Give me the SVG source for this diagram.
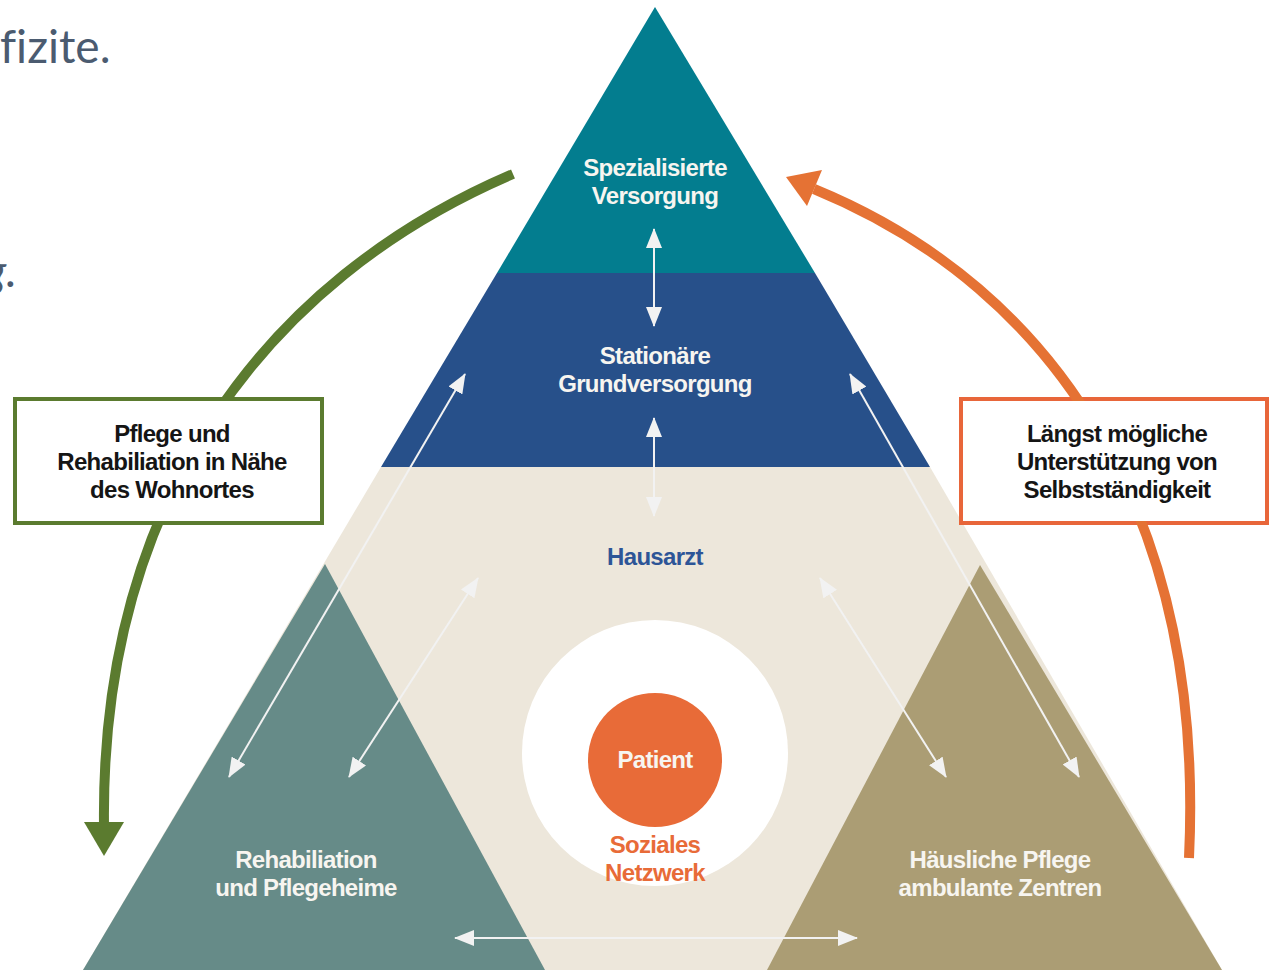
<svg xmlns="http://www.w3.org/2000/svg" width="1276" height="970" viewBox="0 0 1276 970">
  <defs>
    <style>
      .lbl { font-family: "Liberation Sans", Arial, sans-serif; font-weight: bold; font-size: 24px; letter-spacing: -0.7px; text-anchor: middle; }
      .white { fill: #F7F5F0; }
      .dark { fill: #151515; }
      .conn { stroke: #F2F2F2; stroke-width: 2; fill: none; marker-start: url(#wh); marker-end: url(#wh); }
      .intro { font-family: Lato, "Open Sans", sans-serif; font-weight: 400; font-size: 46px; fill: #4B5B70; font-variant-ligatures: none; }
    </style>
    <marker id="wh" viewBox="0 0 20 16" refX="19" refY="8" markerWidth="20" markerHeight="16" markerUnits="userSpaceOnUse" orient="auto-start-reverse">
      <path d="M0,0 L20,8 L0,16 z" fill="#F2F2F2"/>
    </marker>
  </defs>

  <rect width="1276" height="970" fill="#FFFFFF"/>

  <!-- fragments of running text at the left edge -->
  <text class="intro" x="0" y="63">fizite.</text>
  <text class="intro" x="-16" y="287" font-style="italic">g.</text>

  <!-- care pyramid -->
  <g id="pyramid-top">
    <polygon points="655,7 815,273 497,273" fill="#037D8F"/>
    <text class="lbl white" x="655" y="176">Spezialisierte</text>
    <text class="lbl white" x="655" y="204">Versorgung</text>
  </g>
  <g id="pyramid-middle">
    <polygon points="497,273 815,273 930,467 381,467" fill="#27508A"/>
    <text class="lbl white" x="655" y="364">Stationäre</text>
    <text class="lbl white" x="655" y="392">Grundversorgung</text>
  </g>
  <g id="pyramid-base">
    <polygon points="381,467 930,467 1222,970 83,970" fill="#EDE7DB"/>
    <text class="lbl" x="655" y="565" fill="#2D5597">Hausarzt</text>
  </g>
  <g id="rehab">
    <polygon points="325,564 545,970 83,970" fill="#668B88"/>
    <text class="lbl white" x="306" y="868">Rehabiliation</text>
    <text class="lbl white" x="306" y="896">und Pflegeheime</text>
  </g>
  <g id="home-care">
    <polygon points="980,565 1222,970 767,970" fill="#AB9D74"/>
    <text class="lbl white" x="1000" y="868">Häusliche Pflege</text>
    <text class="lbl white" x="1000" y="896">ambulante Zentren</text>
  </g>
  <g id="social-network">
    <circle cx="655" cy="753" r="133" fill="#FFFFFF"/>
    <text class="lbl" x="655" y="853" fill="#E86B38">Soziales</text>
    <text class="lbl" x="655" y="881" fill="#E86B38">Netzwerk</text>
  </g>
  <g id="patient">
    <circle cx="655" cy="760" r="67" fill="#E86B38"/>
    <text class="lbl white" x="655" y="768">Patient</text>
  </g>

  <!-- side boxes -->
  <g id="box-left">
    <rect x="15" y="399" width="307" height="124" fill="#FFFFFF" stroke="#5B7B2F" stroke-width="4"/>
  </g>
  <g id="box-right">
    <rect x="961" y="399" width="306" height="124" fill="#FFFFFF" stroke="#E8663A" stroke-width="4"/>
  </g>

  <!-- connectors -->
  <g id="connectors">
    <path class="conn" d="M654,229 L654,326"/>
    <path class="conn" d="M654,418 L654,516"/>
    <path class="conn" d="M465,374 L229,777"/>
    <path class="conn" d="M478,578 L349,777"/>
    <path class="conn" d="M820,578 L946,777"/>
    <path class="conn" d="M850,374 L1079,777"/>
    <path class="conn" d="M455,938 L857,938"/>

    <!-- green arc: care near home -->
    <path d="M513,174 C265,280 100,500 104,826" fill="none" stroke="#5B7B2F" stroke-width="10"/>
    <polygon points="84,822 124,822 104,856" fill="#5B7B2F"/>

    <!-- orange arc: independence -->
    <path d="M814,189 C1060,290 1205,520 1189,858" fill="none" stroke="#E57234" stroke-width="10"/>
    <polygon points="786,177 822,170 807,206" fill="#E57234"/>
  </g>

  <!-- box captions drawn over the arcs -->
  <g id="box-left-text">
    <rect x="17" y="401" width="303" height="120" fill="#FFFFFF"/>
    <text class="lbl dark" x="172" y="442">Pflege und</text>
    <text class="lbl dark" x="172" y="470">Rehabiliation in Nähe</text>
    <text class="lbl dark" x="172" y="498">des Wohnortes</text>
  </g>
  <g id="box-right-text">
    <rect x="963" y="401" width="302" height="120" fill="#FFFFFF"/>
    <text class="lbl dark" x="1117" y="442">Längst mögliche</text>
    <text class="lbl dark" x="1117" y="470">Unterstützung von</text>
    <text class="lbl dark" x="1117" y="498">Selbstständigkeit</text>
  </g>
</svg>
